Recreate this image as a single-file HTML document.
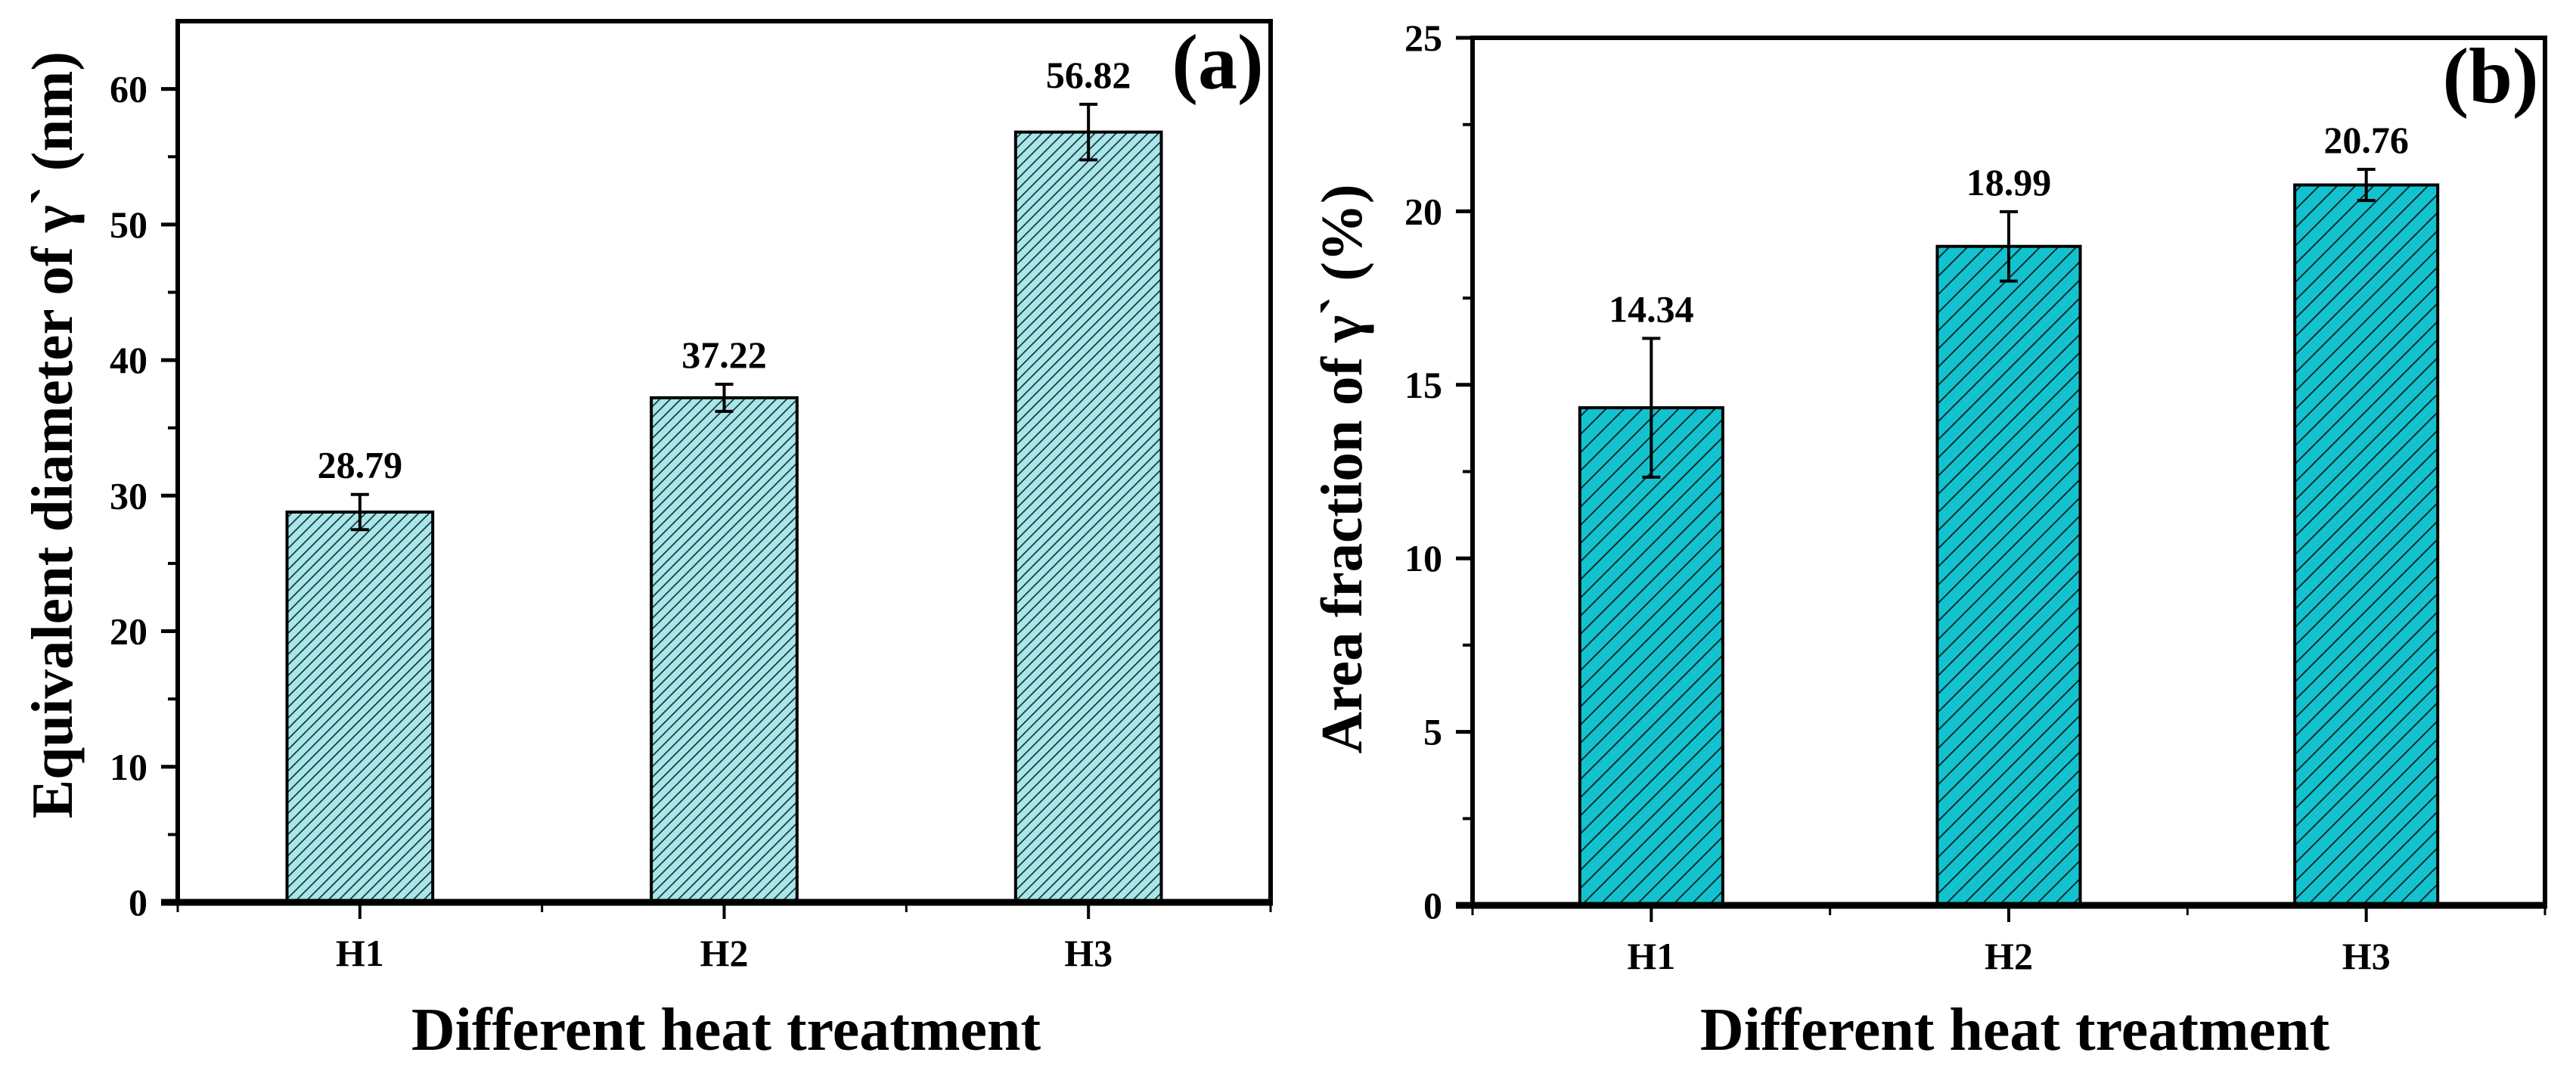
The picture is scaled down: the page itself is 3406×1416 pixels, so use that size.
<!DOCTYPE html>
<html><head><meta charset="utf-8"><style>
html,body{margin:0;padding:0;background:#fff;}
svg{display:block;font-family:"Liberation Serif",serif;font-weight:bold;}
</style></head><body>
<svg id="chart" width="3406" height="1416" viewBox="0 0 3406 1416" xmlns="http://www.w3.org/2000/svg">
<defs>
<pattern id="hatchA" patternUnits="userSpaceOnUse" width="14" height="14">
<rect width="14" height="14" fill="#a8e6ea"/>
<path d="M-2,2 L2,-2 M0,14 L14,0 M12,16 L16,12" stroke="#1f3b3d" stroke-width="1.8"/>
</pattern>
<pattern id="hatchB" patternUnits="userSpaceOnUse" width="24" height="24">
<rect width="24" height="24" fill="#12c3cf"/>
<path d="M-2,2 L2,-2 M0,24 L24,0 M22,26 L26,22" stroke="#0b2a2c" stroke-width="2"/>
</pattern>
</defs>
<g id="panelA"></g>
<g id="panelB"></g>
</svg>
<script>
const categories = ["H1", "H2", "H3"];
const diameterValues = [28.79, 37.22, 56.82];
const diameterErrors = [1.3, 1.0, 2.05];
const diameterTicks = [0, 10, 20, 30, 40, 50, 60];
const fractionValues = [14.34, 18.99, 20.76];
const fractionErrors = [2.0, 1.0, 0.45];
const fractionTicks = [0, 5, 10, 15, 20, 25];

const NS = "http://www.w3.org/2000/svg";
function mk(parent, tag, attrs, text) {
  const e = document.createElementNS(NS, tag);
  for (const k in attrs) e.setAttribute(k, attrs[k]);
  if (text !== undefined) e.textContent = text;
  parent.appendChild(e);
  return e;
}

function drawPanel(cfg) {
  const g = document.getElementById(cfg.id);
  const L = cfg.left, R = cfg.right, T = cfg.top, B = cfg.bottom;
  const y = v => B - (v - cfg.ymin) / (cfg.ymax - cfg.ymin) * (B - T);
  const x = i => L + (i + 0.5) / 3 * (R - L);
  const band = (R - L) / 3;
  cfg.values.forEach((v, i) => {
    const cx = x(i), w = band * 0.4;
    const bar = mk(g, "rect", {x: cx - w / 2, y: y(v), width: w, height: y(0) - y(v), fill: cfg.fill, stroke: "#000", "stroke-width": 4});
    
    
    const e = cfg.errors[i];
    const eb = mk(g, "path", {d: `M${cx},${y(v + e)} V${y(v - e)} M${cx - 12},${y(v + e)} H${cx + 12} M${cx - 12},${y(v - e)} H${cx + 12}`, stroke: "#000", "stroke-width": 4, fill: "none"});
    
    
    const lab = mk(g, "text", {x: cx, y: y(v + e) - 22, "text-anchor": "middle", "font-size": 50}, v.toFixed(2));
    
    
    mk(g, "line", {x1: cx, y1: B, x2: cx, y2: B + 22, stroke: "#000", "stroke-width": 4});
    const xl = mk(g, "text", {x: cx, y: B + 84, "text-anchor": "middle", "font-size": 50}, categories[i]);
    
    
  });
  for (let k = 0; k <= 3; k++) {
    const mx = L + k * band;
    mk(g, "line", {x1: mx, y1: B, x2: mx, y2: B + 13, stroke: "#000", "stroke-width": 3});
  }
  const step = cfg.ticks[1] - cfg.ticks[0];
  cfg.ticks.forEach((t) => {
    mk(g, "line", {x1: L - 22, y1: y(t), x2: L, y2: y(t), stroke: "#000", "stroke-width": 5});
    const tl = mk(g, "text", {x: L - 40, y: y(t) + 17, "text-anchor": "end", "font-size": 50}, String(t));
    
    
    const m = t + step / 2;
    if (m < cfg.ymax) mk(g, "line", {x1: L - 13, y1: y(m), x2: L, y2: y(m), stroke: "#000", "stroke-width": 4});
  });
  const fr = mk(g, "rect", {x: L, y: T, width: R - L, height: B - T, fill: "none", stroke: "#000", "stroke-width": 6});
  
  
  mk(g, "line", {x1: L - 22, y1: B, x2: R + 3, y2: B, stroke: "#000", "stroke-width": 9});
  const yt = mk(g, "text", {x: 0, y: 0, "text-anchor": "middle", "font-size": 77, transform: `translate(${cfg.ytx},${cfg.yty}) rotate(-90)`}, cfg.ytitle);
  
  
  const xt = mk(g, "text", {x: cfg.xtx, y: 1388, "text-anchor": "middle", "font-size": 80}, "Different heat treatment");
  
  
  const pl = mk(g, "text", {x: cfg.plx, y: cfg.ply, "text-anchor": "middle", "font-size": 104}, cfg.plabel);
  
  
}

drawPanel({id: "panelA", left: 235, right: 1680, top: 28, bottom: 1193, ymin: 0, ymax: 65,
  values: diameterValues, errors: diameterErrors, ticks: diameterTicks, fill: "url(#hatchA)",
  ytitle: "Equivalent diameter of γ` (nm)", ytx: 95, yty: 575, xtx: 960, plx: 1610, ply: 117, plabel: "(a)"});
drawPanel({id: "panelB", left: 1947, right: 3365, top: 50, bottom: 1197, ymin: 0, ymax: 25,
  values: fractionValues, errors: fractionErrors, ticks: fractionTicks, fill: "url(#hatchB)",
  ytitle: "Area fraction of γ` (%)", ytx: 1800, yty: 620, xtx: 2664, plx: 3293, ply: 135, plabel: "(b)"});
</script>
</body></html>
